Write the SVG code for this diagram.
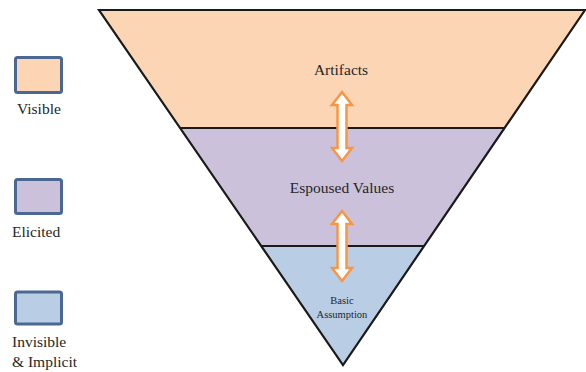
<svg xmlns="http://www.w3.org/2000/svg" width="586" height="372" viewBox="0 0 586 372">
  <style>
    .band { stroke: none; }
    .edge { fill: none; stroke: #1a1a1a; stroke-width: 2.2; stroke-linejoin: miter; }
    .div { stroke: #1a1a1a; stroke-width: 2; }
    .key { stroke: #4a6891; stroke-width: 3; }
    .lbl { font-family: "Liberation Serif", "Times New Roman", serif; font-size: 15.5px; fill: #262626; }
    .sm { font-family: "Liberation Serif", "Times New Roman", serif; font-size: 10.5px; fill: #262626; text-anchor: middle; }
    .arrow { fill: #ffffff; stroke: #f79646; stroke-width: 2.5; stroke-linejoin: miter; }
  </style>
  <rect width="586" height="372" fill="#ffffff"/>

  <!-- legend -->
  <g id="legend-visible">
    <rect class="key" x="15.5" y="57.5" width="46" height="35" rx="2" fill="#fcd5b4"/>
    <text class="lbl" x="17" y="114">Visible</text>
  </g>
  <g id="legend-elicited">
    <rect class="key" x="15.5" y="179.5" width="46" height="34" rx="2" fill="#ccc1da"/>
    <text class="lbl" x="12" y="237">Elicited</text>
  </g>
  <g id="legend-invisible">
    <rect class="key" x="15.5" y="292" width="46" height="32" rx="2" fill="#b9cde5"/>
    <text class="lbl" x="12" y="347">Invisible</text>
    <text class="lbl" x="12" y="367">&amp; Implicit</text>
  </g>

  <!-- pyramid layers -->
  <g id="layer-artifacts">
    <polygon class="band" points="99,10 585,10 504.5,128 180,128" fill="#fcd5b4"/>
    <text class="lbl" x="341" y="75" text-anchor="middle">Artifacts</text>
  </g>
  <g id="layer-espoused">
    <polygon class="band" points="180,128 504.5,128 424,246 261,246" fill="#ccc1da"/>
    <text class="lbl" x="342" y="193" text-anchor="middle">Espoused Values</text>
  </g>
  <g id="layer-assumption">
    <polygon class="band" points="261,246 424,246 343,365" fill="#b9cde5"/>
    <text class="sm" x="342" y="304">Basic</text>
    <text class="sm" x="342" y="318">Assumption</text>
  </g>

  <!-- outline and dividers -->
  <g id="outline">
    <polygon class="edge" points="99,10 585,10 343,365"/>
    <line class="div" x1="180" y1="128" x2="504.5" y2="128"/>
    <line class="div" x1="261" y1="246" x2="424" y2="246"/>
  </g>

  <!-- connectors -->
  <g id="connectors">
    <polygon class="arrow" points="342,92 352,105 346.5,105 346.5,148 352,148 342,161 332,148 337.5,148 337.5,105 332,105"/>
    <polygon class="arrow" points="342,211 352,224 346.5,224 346.5,268 352,268 342,281 332,268 337.5,268 337.5,224 332,224"/>
  </g>
</svg>
